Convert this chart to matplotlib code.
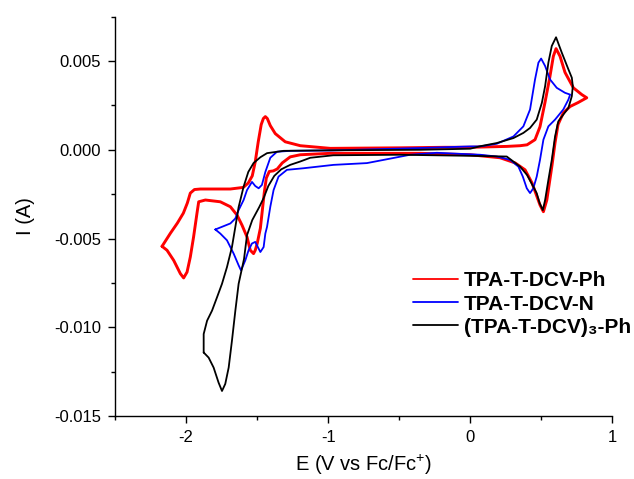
import numpy as np
import matplotlib
matplotlib.use("Agg")
import matplotlib.pyplot as plt
from matplotlib.ticker import MultipleLocator, FuncFormatter

plt.rcParams["font.family"] = ["Liberation Sans", "DejaVu Sans"]
plt.rcParams["mathtext.fontset"] = "custom"
plt.rcParams["mathtext.rm"] = "Liberation Sans"
plt.rcParams["mathtext.bf"] = "Liberation Sans:bold"

# Cyclic voltammograms, potential in V vs Fc/Fc+, current in mA (converted to A below)
# TPA-T-DCV-Ph (red): positive-going sweep from left vertex, then back
E_ph = [-2.169, -2.110, -2.061, -2.019, -1.991, -1.970, -1.941, -1.899, -1.688, -1.597,
        -1.562, -1.534, -1.513, -1.492, -1.471, -1.456, -1.442, -1.428, -1.407, -1.372,
        -1.302, -1.196, -0.985, -0.493, -0.177, 0.000, 0.257, 0.351, 0.400, 0.456,
        0.491, 0.526, 0.561, 0.585, 0.604, 0.632, 0.667, 0.726, 0.785, 0.820,
        0.759, 0.703, 0.655, 0.618, 0.597, 0.576, 0.555, 0.539, 0.515, 0.491,
        0.468, 0.435, 0.386, 0.316, 0.210, 0.000, -0.352, -0.704, -0.985, -1.196,
        -1.267, -1.323, -1.358, -1.386, -1.414, -1.435, -1.449, -1.463, -1.477, -1.499,
        -1.513, -1.525, -1.548, -1.571, -1.606, -1.641, -1.688, -1.759, -1.864, -1.911,
        -1.923, -1.947, -1.970, -1.993, -2.017, -2.040, -2.087, -2.134, -2.169]
I_ph = [-5.44, -4.70, -4.13, -3.57, -3.00, -2.44, -2.24, -2.21, -2.21, -2.12,
        -1.87, -1.47, -0.68, 0.45, 1.42, 1.76, 1.87, 1.76, 1.36, 0.91,
        0.45, 0.23, 0.08, 0.11, 0.14, 0.14, 0.19, 0.23, 0.28, 0.57,
        1.30, 2.66, 4.13, 5.27, 5.70, 5.27, 4.36, 3.49, 3.11, 2.93,
        2.66, 2.44, 2.08, 1.42, 0.40, -0.85, -1.98, -2.83, -3.49, -3.11,
        -2.60, -1.87, -1.13, -0.74, -0.45, -0.28, -0.20, -0.20, -0.20, -0.28,
        -0.40, -0.74, -1.08, -1.19, -1.22, -1.59, -2.38, -3.40, -4.42, -5.27,
        -5.66, -5.85, -5.66, -4.91, -4.25, -3.68, -3.21, -2.93, -2.83, -2.93,
        -3.57, -4.91, -6.04, -6.89, -7.22, -6.98, -6.23, -5.66, -5.44]

# TPA-T-DCV-N (blue)
E_n = [-1.794, -1.747, -1.688, -1.653, -1.630, -1.595, -1.571, -1.536, -1.513, -1.489,
       -1.466, -1.442, -1.407, -1.360, -1.267, -0.985, -0.352, 0.000, 0.070, 0.187,
       0.304, 0.374, 0.421, 0.456, 0.480, 0.499, 0.527, 0.562, 0.609, 0.667,
       0.703, 0.691, 0.655, 0.597, 0.550, 0.515, 0.491, 0.468, 0.444, 0.421,
       0.398, 0.370, 0.339, 0.281, 0.187, 0.070, -0.235, -0.423, -0.610, -0.727,
       -0.962, -1.173, -1.290, -1.349, -1.384, -1.407, -1.430, -1.442, -1.454, -1.477,
       -1.489, -1.513, -1.536, -1.560, -1.583, -1.613, -1.630, -1.665, -1.712, -1.759,
       -1.794]
I_n = [-4.49, -4.34, -4.15, -3.87, -3.40, -2.83, -2.27, -1.81, -2.04, -2.17,
       -1.98, -1.25, -0.45, -0.11, -0.06, -0.04, 0.10, 0.19, 0.19, 0.34,
       0.75, 1.32, 2.27, 3.96, 4.91, 5.14, 4.72, 3.96, 3.49, 3.21,
       3.11, 2.83, 2.27, 1.70, 1.32, 0.57, -0.57, -1.51, -2.17, -2.44,
       -2.17, -1.51, -0.95, -0.57, -0.38, -0.28, -0.17, -0.28, -0.57, -0.75,
       -0.85, -1.04, -1.13, -1.51, -2.27, -3.21, -4.34, -4.72, -5.48, -5.76,
       -5.57, -5.19, -5.28, -5.66, -6.23, -6.80, -6.51, -5.85, -5.10, -4.72,
       -4.49]

# (TPA-T-DCV)3-Ph (black)
E_tri = [-1.876, -1.876, -1.852, -1.817, -1.782, -1.747, -1.712, -1.677, -1.653, -1.630,
         -1.595, -1.562, -1.525, -1.477, -1.430, -1.314, -0.985, -0.352, 0.000, 0.070,
         0.187, 0.304, 0.374, 0.421, 0.468, 0.504, 0.527, 0.550, 0.574, 0.604,
         0.644, 0.691, 0.715, 0.722, 0.715, 0.691, 0.655, 0.620, 0.597, 0.574,
         0.550, 0.527, 0.511, 0.488, 0.468, 0.444, 0.400, 0.351, 0.257, 0.000,
         -0.493, -0.964, -1.126, -1.196, -1.267, -1.330, -1.379, -1.421, -1.454, -1.485,
         -1.534, -1.571, -1.592, -1.630, -1.653, -1.677, -1.700, -1.724, -1.747, -1.771,
         -1.806, -1.841, -1.876]
I_tri = [-11.42, -10.38, -9.63, -9.06, -8.31, -7.55, -6.61, -5.48, -4.34, -3.23,
         -2.08, -1.25, -0.75, -0.42, -0.19, -0.06, -0.03, 0.00, 0.06, 0.20,
         0.38, 0.66, 0.95, 1.23, 1.70, 2.64, 3.58, 4.91, 5.85, 6.34,
         5.48, 4.53, 4.06, 3.58, 3.02, 2.36, 1.98, 1.60, 0.75, -0.57,
         -1.70, -2.83, -3.40, -3.00, -2.45, -2.08, -1.42, -0.95, -0.38, -0.34,
         -0.28, -0.31, -0.45, -0.66, -0.85, -1.10, -1.47, -2.04, -2.72, -3.23,
         -3.96, -4.81, -6.15, -7.55, -9.06, -10.76, -12.27, -13.19, -13.59, -13.12,
         -12.27, -11.71, -11.42]

labels = ["TPA-T-DCV-Ph", "TPA-T-DCV-N", "(TPA-T-DCV)\u2083-Ph"]


def plot_cv():
    fig = plt.figure(figsize=(6.34, 4.79), dpi=100)
    ax = fig.add_axes([0.1814, 0.1315, 0.7844, 0.8337])

    # round joins so the traced polylines look less jagged
    style = dict(solid_joinstyle="round", solid_capstyle="round")
    ax.plot(E_ph, np.array(I_ph) * 1e-3, color="#ff0000", lw=2.1, label=labels[0], **style)
    ax.plot(E_n, np.array(I_n) * 1e-3, color="#0000ff", lw=1.3, label=labels[1], **style)
    ax.plot(E_tri, np.array(I_tri) * 1e-3, color="black", lw=1.3, label=labels[2], **style)

    ax.set_xlim(-2.5, 1.0)
    ax.set_ylim(-0.015, 0.0075)

    ax.xaxis.set_major_locator(MultipleLocator(1))
    ax.xaxis.set_minor_locator(MultipleLocator(0.5))
    ax.yaxis.set_major_locator(MultipleLocator(0.005))
    ax.yaxis.set_minor_locator(MultipleLocator(0.0025))
    ax.xaxis.set_major_formatter(FuncFormatter(lambda v, p: f"{v:.0f}"))
    ax.yaxis.set_major_formatter(FuncFormatter(lambda v, p: f"{v:.3f}"))

    for side in ["top", "right"]:
        ax.spines[side].set_visible(False)
    for side in ["left", "bottom"]:
        ax.spines[side].set_linewidth(1.0)

    ax.tick_params(which="major", direction="out", length=5, width=1, labelsize=12, pad=5)
    ax.tick_params(which="minor", direction="out", length=3, width=1)

    ax.set_xlabel(r"E (V vs Fc/Fc$^{+}$)", fontsize=14.5, labelpad=6)
    ax.set_ylabel("I (A)", fontsize=14.5, labelpad=14)

    leg = ax.legend(loc="upper left", bbox_to_anchor=(0.599, 0.362), frameon=False,
                    prop={"weight": "bold", "size": 15}, handlelength=2.15,
                    handletextpad=0.28, labelspacing=0.2, borderpad=0, borderaxespad=0)
    for line in leg.get_lines():
        line.set_linewidth(1.3)

    fig.savefig("out.png", dpi=100)


if __name__ == "__main__":
    plot_cv()
